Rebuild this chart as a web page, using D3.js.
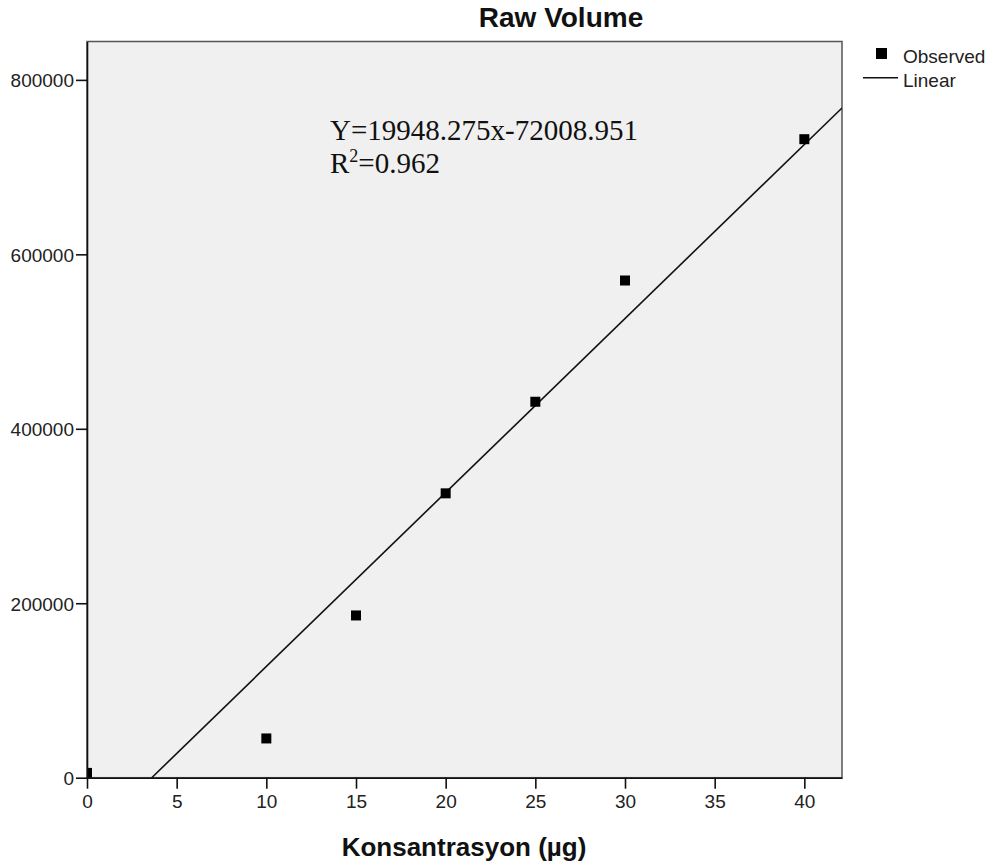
<!DOCTYPE html>
<html>
<head>
<meta charset="utf-8">
<script src="https://cdn.jsdelivr.net/npm/d3@7"></script>
<style>
  body { margin: 0; background: #fff; }
  svg { display: block; }
  .tick text { font-family: "Liberation Sans", Arial, sans-serif; font-size: 19px; fill: #222; }
</style>
</head>
<body>
<svg id="chart" width="994" height="866"></svg>
<script>
// observed points
const concentration = [0, 10, 15, 20, 25, 30, 40];
const rawVolume = [5500, 45000, 186000, 326000, 431000, 570000, 732000];
const xTicks = [0, 5, 10, 15, 20, 25, 30, 35, 40];
const yTicks = [0, 200000, 400000, 600000, 800000];
// fitted line as printed on the chart
const fit = [19948.275, -72008.951];
const fitText = ["Y=19948.275x-72008.951", "0.962"];
const legendItems = ["Observed", "Linear"];

const svg = d3.select("#chart");
const plot = {left: 87, right: 842, top: 41.5, bottom: 777.7};

const x = d3.scaleLinear().domain([0, 42.1]).range([plot.left, plot.right]);
const y = d3.scaleLinear().domain([0, 844000]).range([plot.bottom, plot.top]);

svg.append("defs").append("clipPath").attr("id", "clip")
  .append("rect")
  .attr("x", plot.left).attr("y", plot.top)
  .attr("width", plot.right - plot.left).attr("height", plot.bottom - plot.top);

// plot background + frame
svg.append("rect")
  .attr("x", plot.left).attr("y", plot.top)
  .attr("width", plot.right - plot.left).attr("height", plot.bottom - plot.top)
  .attr("fill", "#f0f0f0")
  .attr("stroke", "#555").attr("stroke-width", 1.5);

// regression line from the printed coefficients
const xStart = -fit[1] / fit[0];
const xEnd = x.domain()[1];
svg.append("path")
  .attr("clip-path", "url(#clip)")
  .attr("d", d3.line().x(d => x(d)).y(d => y(fit[0] * d + fit[1]))([xStart, xEnd]))
  .attr("fill", "none")
  .attr("stroke", "#111")
  .attr("stroke-width", 1.6);

// observed squares
const sq = 10;
svg.append("g").attr("clip-path", "url(#clip)")
  .selectAll("rect")
  .data(concentration.map((c, i) => ({c, v: rawVolume[i]})))
  .join("rect")
  .attr("x", d => x(d.c) - sq / 2)
  .attr("y", d => y(d.v) - sq / 2)
  .attr("width", sq).attr("height", sq)
  .attr("fill", "#000");

// axes
const xAxis = svg.append("g")
  .attr("transform", `translate(0,${plot.bottom})`)
  .call(d3.axisBottom(x).tickValues(xTicks).tickSize(11).tickPadding(6).tickSizeOuter(0));
const yAxis = svg.append("g")
  .attr("transform", `translate(${plot.left},0)`)
  .call(d3.axisLeft(y).tickValues(yTicks).tickFormat(d3.format("d")).tickSize(11).tickPadding(2).tickSizeOuter(0));
[xAxis, yAxis].forEach(g => {
  g.select(".domain").attr("stroke", "#111").attr("stroke-width", 1.6);
  g.selectAll(".tick line").attr("stroke", "#111").attr("stroke-width", 1.6);
});
yAxis.selectAll(".tick text").attr("dy", "0.36em");

// title and axis label
svg.append("text")
  .attr("x", 561).attr("y", 27)
  .attr("text-anchor", "middle")
  .style("font-family", "'Liberation Sans', Arial, sans-serif")
  .style("font-weight", "bold").style("font-size", "28px")
  .attr("fill", "#111")
  .text("Raw Volume");

svg.append("text")
  .attr("x", 464).attr("y", 856)
  .attr("text-anchor", "middle")
  .style("font-family", "'Liberation Sans', Arial, sans-serif")
  .style("font-weight", "bold").style("font-size", "26px")
  .attr("fill", "#111")
  .text("Konsantrasyon (µg)");

// equation annotation
const eq = svg.append("g")
  .style("font-family", "'Liberation Serif', 'Times New Roman', serif")
  .style("font-size", "29px")
  .attr("fill", "#111");
eq.append("text").attr("x", 330).attr("y", 140).text(fitText[0]);
const r2 = eq.append("text").attr("x", 330).attr("y", 173);
r2.append("tspan").text("R");
r2.append("tspan").attr("dy", -11).style("font-size", "18px").text("2");
r2.append("tspan").attr("dy", 11).text("=" + fitText[1]);

// legend
const legend = svg.append("g")
  .style("font-family", "'Liberation Sans', Arial, sans-serif")
  .style("font-size", "19px")
  .attr("fill", "#222");
legend.append("rect").attr("x", 876).attr("y", 48).attr("width", 11).attr("height", 11).attr("fill", "#000");
legend.append("line").attr("x1", 863).attr("x2", 898).attr("y1", 77.7).attr("y2", 77.7)
  .attr("stroke", "#111").attr("stroke-width", 1.6);
legend.selectAll("text.item")
  .data(legendItems)
  .join("text").attr("class", "item")
  .attr("x", 903)
  .attr("y", (d, i) => 63 + i * 24)
  .text(d => d);
</script>
</body>
</html>
